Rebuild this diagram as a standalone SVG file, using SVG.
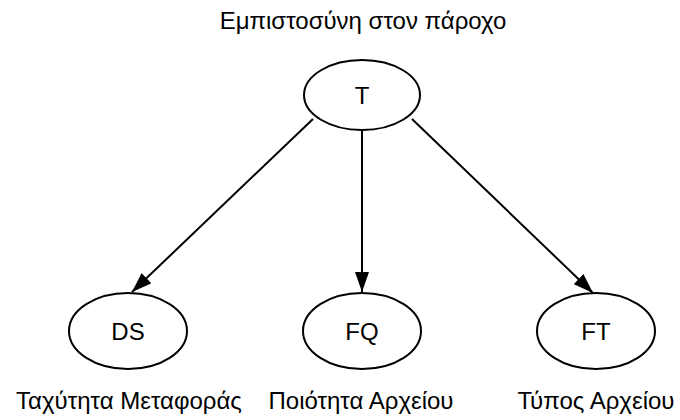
<svg xmlns="http://www.w3.org/2000/svg" width="680" height="420" viewBox="0 0 680 420">
<style>
text{font-family:"Liberation Sans",Arial,sans-serif;font-size:24px;fill:#000;text-anchor:middle}
ellipse{fill:#fff;stroke:#000;stroke-width:2}
.c line{stroke:#000;stroke-width:2}
</style>
<defs>
<marker id="a" viewBox="0 0 20 14" refX="20" refY="7" markerWidth="20" markerHeight="14" markerUnits="userSpaceOnUse" orient="auto">
<path d="M0,0 L20,7 L0,14 z" fill="#000"/>
</marker>
</defs>
<rect width="680" height="420" fill="#fff"/>
<text x="363" y="29">Εμπιστοσύνη στον πάροχο</text>
<g class="c">
<line x1="313" y1="119" x2="132" y2="292" marker-end="url(#a)"/>
<line x1="362" y1="131" x2="362" y2="292" marker-end="url(#a)"/>
<line x1="412" y1="119" x2="593" y2="293" marker-end="url(#a)"/>
</g>
<g id="T"><ellipse cx="362" cy="95" rx="58" ry="35"/><text x="362" y="104">T</text></g>
<g id="DS"><ellipse cx="128" cy="331" rx="59" ry="38"/><text x="128" y="340">DS</text><text x="129" y="409">Ταχύτητα Μεταφοράς</text></g>
<g id="FQ"><ellipse cx="362" cy="331" rx="59" ry="38"/><text x="362" y="340">FQ</text><text x="361" y="409">Ποιότητα Αρχείου</text></g>
<g id="FT"><ellipse cx="596" cy="331" rx="59" ry="38"/><text x="596" y="340">FT</text><text x="596" y="409">Τύπος Αρχείου</text></g>
</svg>
